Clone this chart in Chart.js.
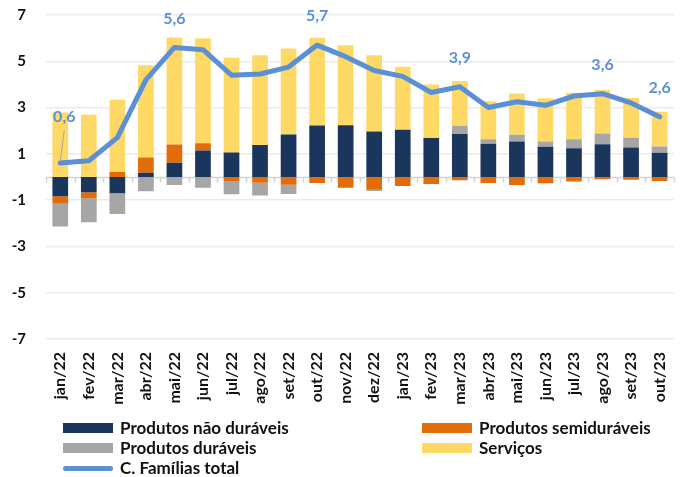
<!DOCTYPE html>
<html>
<head>
<meta charset="utf-8">
<script src="https://cdn.jsdelivr.net/npm/chart.js@4/dist/chart.umd.min.js"></script>
<style>
  html, body { margin: 0; padding: 0; background: #fff; }
  #wrap { position: relative; width: 692px; height: 477px; }
  #c { position: absolute; left: 0; top: 0; }
  .lg { position: absolute; font-family: Lato, "Open Sans", sans-serif; font-weight: 700; font-size: 17px; color: #111; white-space: nowrap; line-height: 20px; }
  .sw { position: absolute; }
</style>
</head>
<body>
<div id="wrap">
  <canvas id="c" width="692" height="477"></canvas>
  <div id="legend"></div>
</div>
<script>
const categories = ['jan/22','fev/22','mar/22','abr/22','mai/22','jun/22','jul/22','ago/22','set/22','out/22','nov/22','dez/22','jan/23','fev/23','mar/23','abr/23','mai/23','jun/23','jul/23','ago/23','set/23','out/23'];
const naoDuraveis  = [-0.83,-0.66,-0.70,0.18,0.62,1.14,1.06,1.38,1.84,2.22,2.24,1.97,2.04,1.68,1.86,1.44,1.53,1.31,1.24,1.42,1.28,1.05];
const semiduraveis = [-0.33,-0.26,0.22,0.66,0.78,0.32,-0.17,-0.25,-0.33,-0.26,-0.46,-0.55,-0.39,-0.30,-0.14,-0.26,-0.35,-0.27,-0.19,-0.10,-0.12,-0.17];
const duraveis     = [-0.98,-1.04,-0.90,-0.62,-0.35,-0.46,-0.58,-0.55,-0.40,0,0,-0.06,0,0,0.35,0.19,0.30,0.22,0.39,0.46,0.42,0.27];
const servicos     = [2.79,2.69,3.12,3.99,4.63,4.53,4.09,3.88,3.71,3.80,3.45,3.29,2.72,2.32,1.94,1.64,1.78,1.87,2.01,1.88,1.71,1.50];
const familiasTotal = [0.6,0.7,1.7,4.2,5.6,5.5,4.4,4.45,4.75,5.7,5.2,4.6,4.35,3.65,3.9,3.0,3.25,3.1,3.5,3.6,3.2,2.6];
const yTicks = [7,5,3,1,-1,-3,-5,-7];
const labeledPoints = [0,4,9,14,19,21];

const C_ND = '#1b365d', C_SEMI = '#e36c0a', C_DUR = '#a6a6a6', C_SERV = '#ffd966', C_LINE = '#5b8fd6';
const FONT = 'Lato, "Open Sans", sans-serif';

const decoPlugin = {
  id: 'deco',
  beforeDatasetsDraw(chart) {
    const {ctx, chartArea, scales: {x, y}} = chart;
    const y0 = Math.round(y.getPixelForValue(0)) + 0.5;
    ctx.save();
    ctx.strokeStyle = '#d4d4d4';
    ctx.lineWidth = 1.5;
    ctx.beginPath();
    ctx.moveTo(chartArea.left, y0); ctx.lineTo(chartArea.right, y0);
    const n = categories.length;
    const w = (chartArea.right - chartArea.left) / n;
    for (let i = 0; i <= n; i++) {
      const xx = Math.round(x.getPixelForValue(0) - w / 2 + i * w) + 0.5;
      ctx.moveTo(xx, y0); ctx.lineTo(xx, y0 + 5);
    }
    ctx.stroke();
    ctx.restore();
  },
  afterDatasetsDraw(chart) {
    const {ctx} = chart;
    const idx = chart.data.datasets.findIndex(d => d.type === 'line');
    const meta = chart.getDatasetMeta(idx);
    ctx.save();
    ctx.font = '700 16px ' + FONT;
    ctx.fillStyle = C_LINE;
    ctx.textAlign = 'center';
    ctx.textBaseline = 'middle';
    labeledPoints.forEach(i => {
      const p = meta.data[i];
      const txt = familiasTotal[i].toFixed(1).replace('.', ',');
      if (i === 0) {
        ctx.strokeStyle = '#a6a6a6';
        ctx.lineWidth = 1;
        ctx.beginPath();
        ctx.moveTo(p.x + 4, p.y - 33); ctx.lineTo(p.x, p.y - 2);
        ctx.stroke();
        ctx.fillText(txt, p.x + 4, p.y - 46);
      } else {
        ctx.fillText(txt, p.x, p.y - 29);
      }
    });
    ctx.restore();
  }
};

const ctx = document.getElementById('c').getContext('2d');
const chart = new Chart(ctx, {
  data: {
    labels: categories,
    datasets: [
      { type: 'line', label: 'C. Famílias total', data: familiasTotal, borderColor: C_LINE, backgroundColor: C_LINE, borderWidth: 5, pointRadius: 0, tension: 0, borderJoinStyle: 'round', borderCapStyle: 'round', order: -1, stack: 'total' },
      { type: 'bar', label: 'Produtos não duráveis', data: naoDuraveis, backgroundColor: C_ND, stack: 's' },
      { type: 'bar', label: 'Produtos semiduráveis', data: semiduraveis, backgroundColor: C_SEMI, stack: 's' },
      { type: 'bar', label: 'Produtos duráveis', data: duraveis, backgroundColor: C_DUR, stack: 's' },
      { type: 'bar', label: 'Serviços', data: servicos, backgroundColor: C_SERV, stack: 's' }
    ]
  },
  options: {
    responsive: false,
    animation: false,
    layout: { padding: { top: 15, right: 9, left: 0, bottom: 0 } },
    datasets: { bar: { categoryPercentage: 0.55, barPercentage: 1 } },
    plugins: { legend: { display: false }, tooltip: { enabled: false } },
    scales: {
      x: {
        stacked: true,
        grid: { display: false, drawTicks: false },
        border: { display: false },
        ticks: { minRotation: 90, maxRotation: 90, padding: 13, color: '#111', font: { family: FONT, weight: '700', size: 16 } },
        afterFit(s) { s.height = 138; }
      },
      y: {
        stacked: true,
        min: -7, max: 7,
        grid: { color: '#ebebeb', lineWidth: 1.5, drawTicks: false },
        border: { display: false },
        afterBuildTicks(s) { s.ticks = yTicks.map(v => ({ value: v })); },
        ticks: { padding: 20, color: '#111', font: { family: FONT, weight: '700', size: 15 }, callback: v => String(v) },
        afterFit(s) { s.width = 46; s.paddingTop = 0; s.paddingBottom = 0; }
      }
    }
  },
  plugins: [decoPlugin]
});

// HTML legend built from the chart datasets
const legend = document.getElementById('legend');
const order = [1, 2, 3, 4, 0];
const slots = [[63, 428], [422, 428], [63, 448], [422, 448], [63, 468]];
order.forEach((di, k) => {
  const ds = chart.data.datasets[di];
  const [sx, cy] = slots[k];
  const sw = document.createElement('div');
  sw.className = 'sw';
  if (ds.type === 'line') {
    sw.style.cssText = `left:${sx}px;top:${cy - 2}px;width:50px;height:5px;border-radius:3px;background:${ds.borderColor}`;
  } else {
    sw.style.cssText = `left:${sx}px;top:${cy - 5}px;width:50px;height:10px;background:${ds.backgroundColor}`;
  }
  legend.appendChild(sw);
  const t = document.createElement('div');
  t.className = 'lg';
  t.style.left = (sx + 57) + 'px';
  t.style.top = (cy - 10) + 'px';
  t.textContent = ds.label;
  legend.appendChild(t);
});
</script>
</body>
</html>
